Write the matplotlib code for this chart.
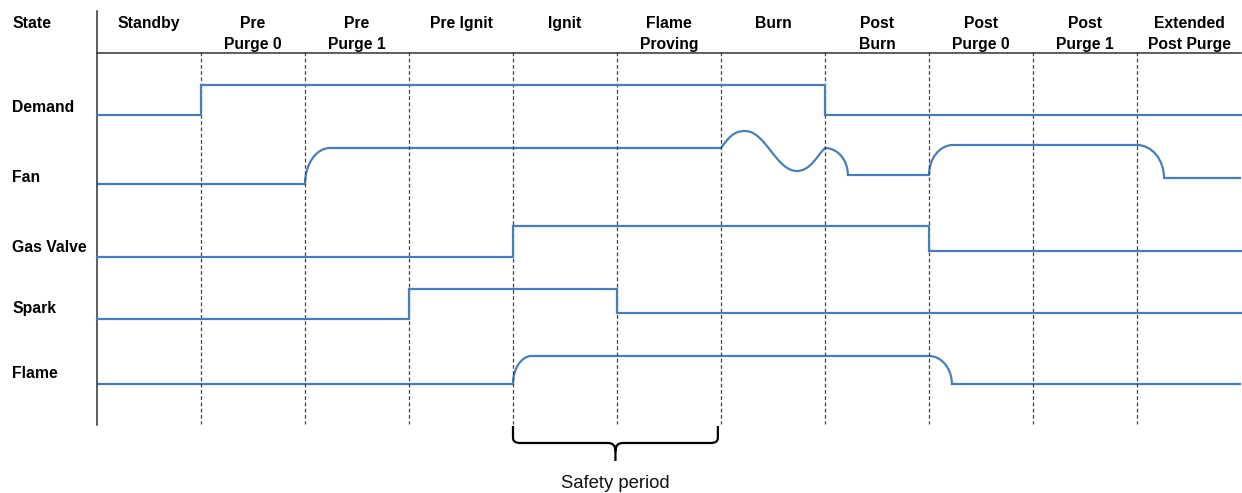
import matplotlib
matplotlib.use("Agg")
import matplotlib.pyplot as plt
from matplotlib.path import Path
from matplotlib.patches import PathPatch

# states along the time axis (one column per state)
states = ["Standby", "Pre\nPurge 0", "Pre\nPurge 1", "Pre Ignit", "Ignit",
          "Flame\nProving", "Burn", "Post\nBurn", "Post\nPurge 0",
          "Post\nPurge 1", "Extended\nPost Purge"]

signals = ["Demand", "Fan", "Gas Valve", "Spark", "Flame"]
signal_label_y = [107, 177, 247, 309, 373]

# square signals: switch times (state index) and levels (layout y, down = low)
demand_t = [0, 1, 7, 11]
demand_y = [115, 85, 115]
gas_t = [0, 4, 8, 11]
gas_y = [257, 226, 251]
spark_t = [0, 3, 5, 11]
spark_y = [319, 289, 313]

# flame: low -> rounded rise at 4 -> high -> rounded fall at 8
flame_t = [0, 4, 8, 11]
flame_y = [384, 356, 384]
flame_w = [0.18, 0.22]

# fan: rounded edges, wobble during Burn (segment with width None)
fan_t = [0, 2, 6, 7, 8, 10, 11]
fan_y = [184, 148, 148, 175, 145, 178]
fan_w = [0.24, None, 0.22, 0.23, 0.26]
wobble_t = [6.23, 6.73]   # peak, trough
wobble_y = [131, 171]

blue = "#4a7ebb"
K = 0.5523

plt.rcParams['font.family'] = ['Liberation Sans', 'DejaVu Sans']

fig = plt.figure(figsize=(12.42, 4.93), dpi=100)
ax = fig.add_axes([0, 0, 1, 1])
ax.set_xlim(-97 / 104, 1145 / 104)
ax.set_ylim(493, 0)
ax.axis('off')


def step_line(ts, ys):
    xs, yy = [], []
    for i, y in enumerate(ys):
        xs += [ts[i], ts[i + 1]]
        yy += [y, y]
    ax.plot(xs, yy, color=blue, lw=1.6, solid_joinstyle='miter')


def rounded_signal(ts, ys, ws):
    verts = [(ts[0], ys[0])]
    codes = [Path.MOVETO]
    for i in range(1, len(ys)):
        t0 = ts[i]
        y0, y1 = ys[i - 1], ys[i]
        w = ws[i - 1]
        verts.append((t0, y0))
        codes.append(Path.LINETO)
        if w is None:
            # wobble over the whole state
            pt, tt = wobble_t
            py, ty = wobble_y
            t1 = ts[i + 1]
            verts += [(t0 + 0.07, y0 - 10), (pt - 0.11, py), (pt, py),
                      (pt + 0.2, py), (tt - 0.2, ty), (tt, ty),
                      (tt + 0.13, ty), (t1 - 0.08, y1 + 8), (t1, y1)]
            codes += [Path.CURVE4] * 9
        elif y1 < y0:
            # rising: vertical start, flat end
            verts += [(t0, y0 - K * (y0 - y1)), (t0 + w - K * w, y1), (t0 + w, y1)]
            codes += [Path.CURVE4] * 3
        else:
            # falling: flat start, vertical end
            verts += [(t0 + K * w, y0), (t0 + w, y1 - K * (y1 - y0)), (t0 + w, y1)]
            codes += [Path.CURVE4] * 3
    verts.append((ts[-1], ys[-1]))
    codes.append(Path.LINETO)
    ax.add_patch(PathPatch(Path(verts, codes), fill=False, edgecolor=blue, lw=1.6))


# grid and frame
for t in range(1, len(states)):
    ax.plot([t, t], [52, 424], color="#444444", lw=0.9, ls=(0, (3, 2)))
ax.plot([0, 0], [11, 425], color="#333333", lw=1.1)
ax.plot([0, len(states)], [52.5, 52.5], color="#333333", lw=1.1)

# header
bold = dict(fontsize=11.3, fontweight='bold', color='black')
ax.text(-0.817, 28, "State", ha='left', va='baseline', **bold)
for i, name in enumerate(states):
    for j, line in enumerate(name.split("\n")):
        ax.text(i + 0.5, 28 + 21 * j, line, ha='center', va='baseline', **bold)

for name, y in zip(signals, signal_label_y):
    ax.text(-0.817, y, name, ha='left', va='center', **bold)

# signals
step_line(demand_t, demand_y)
step_line(gas_t, gas_y)
step_line(spark_t, spark_y)
rounded_signal(flame_t, flame_y, flame_w)
rounded_signal(fan_t, fan_y, fan_w)

# safety period brace
b0, b1 = 4.0, 5.97
bm = (b0 + b1) / 2
r = 0.07
brace = [
    ((b0, 426), Path.MOVETO), ((b0, 438), Path.LINETO),
    ((b0, 443), Path.CURVE3), ((b0 + r, 443), Path.CURVE3),
    ((bm - r, 443), Path.LINETO),
    ((bm, 443), Path.CURVE3), ((bm, 451), Path.CURVE3),
    ((bm, 461), Path.LINETO),
    ((bm, 451), Path.MOVETO),
    ((bm, 443), Path.CURVE3), ((bm + r, 443), Path.CURVE3),
    ((b1 - r, 443), Path.LINETO),
    ((b1, 443), Path.CURVE3), ((b1, 438), Path.CURVE3),
    ((b1, 426), Path.LINETO),
]
v, c = zip(*brace)
ax.add_patch(PathPatch(Path(v, c), fill=False, edgecolor='black', lw=1.6))
ax.text(bm, 488, "Safety period", ha='center', va='baseline', fontsize=13.3,
        color='#111111')

fig.savefig("out.png", dpi=100)
